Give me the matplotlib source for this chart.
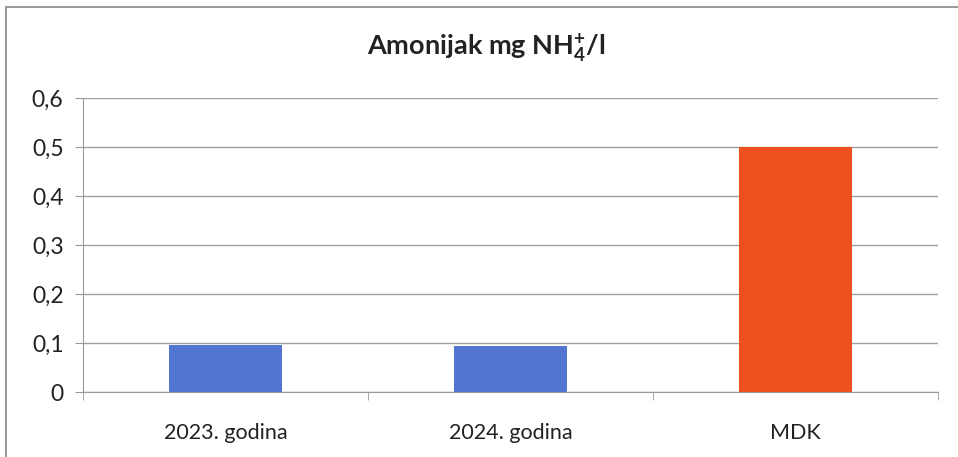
import matplotlib.pyplot as plt
from matplotlib.patches import Rectangle

categories = ["2023. godina", "2024. godina", "MDK"]
values = [0.095, 0.093, 0.5]
colors = ["#5275d2", "#5275d2", "#ee4f1f"]
yticks = [0, 0.1, 0.2, 0.3, 0.4, 0.5, 0.6]
ylabels = ["0", "0,1", "0,2", "0,3", "0,4", "0,5", "0,6"]

plt.rcParams['font.family'] = ['Lato', 'DejaVu Sans']
plt.rcParams['mathtext.fontset'] = 'custom'
plt.rcParams['mathtext.rm'] = 'Lato:bold'
plt.rcParams['mathtext.it'] = 'Lato:bold'
plt.rcParams['mathtext.bf'] = 'Lato:bold'

fig = plt.figure(figsize=(9.58, 4.57), dpi=100)
ax = fig.add_axes([83 / 958, 0.1422, 855 / 958, 0.6434])

x = range(len(categories))
ax.bar(x, values, width=0.395, color=colors)
ax.set_xlim(-0.5, 2.5)
ax.set_ylim(0, 0.6)
ax.set_yticks(yticks)
ax.set_yticklabels(ylabels, fontsize=16.5, color="#222222")
ax.set_xticks(list(x))
ax.set_xticklabels(categories, fontsize=15.5, color="#222222")
ax.set_xticks([-0.5, 0.5, 1.5, 2.5], minor=True)
ax.tick_params(axis='x', which='major', length=0, pad=22)
ax.tick_params(axis='x', which='minor', length=6, color="#999999")
ax.tick_params(axis='y', length=6, color="#999999", pad=8)
ax.grid(axis='y', color="#a0a0a0", linewidth=1)
ax.set_axisbelow(True)
for s in ['top', 'right']:
    ax.spines[s].set_visible(False)
ax.spines['left'].set_color("#999999")
ax.spines['bottom'].set_color("#999999")

fig.text(0.507, 0.895, r"Amonijak mg NH$_\mathregular{4}^\mathregular{+}$/l", ha='center', va='center',
         fontsize=19.5, fontweight='bold', color="#222222")

fig.patches.append(Rectangle((6 / 958, -0.05), 1.0, 1.035, transform=fig.transFigure,
                             fill=False, edgecolor="#888888", linewidth=1.2))

fig.savefig("out.png", dpi=100)
